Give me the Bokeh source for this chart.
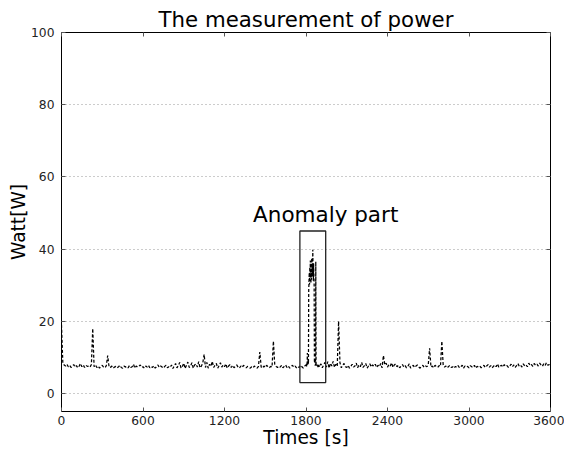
from bokeh.plotting import figure
from bokeh.models import Range1d, LinearAxis, FixedTicker, Label, ColumnDataSource
from bokeh.embed import file_html
from bokeh.resources import INLINE

# ---- data (power in W) ----
# t = 0 .. 1790 s, every 10 s
power_before = [
    19.0, 8.2, 7.9, 7.6, 8.1, 7.4, 7.8, 7.2, 7.5, 8.0, 7.3, 7.7, 7.1, 7.6, 8.3, 7.4, 7.9, 7.2, 7.8, 7.5,
    7.6, 7.3, 8.0, 18.0, 7.4, 7.9, 7.2, 7.6, 7.0, 7.5, 7.8, 7.3, 7.1, 7.7, 10.5, 7.4, 7.2, 7.6, 7.0, 7.3,
    7.5, 7.1, 7.4, 7.8, 7.2, 7.0, 7.6, 7.3, 7.5, 7.1, 7.7, 7.2, 7.4, 8.1, 7.0, 7.6, 7.3, 7.5, 7.9, 7.2,
    7.4, 7.0, 7.6, 7.3, 7.8, 7.1, 7.5, 7.2, 7.7, 7.0, 7.4, 7.9, 7.2, 7.6, 7.3, 7.0, 7.5, 7.8, 7.1, 7.4,
    7.2, 7.9, 6.9, 7.6, 8.3, 7.1, 7.7, 8.6, 7.0, 7.5, 8.4, 6.9, 7.8, 8.7, 7.2, 7.6, 8.5, 7.0, 7.9, 8.2,
    7.3, 8.8, 7.1, 7.6, 8.4, 10.8, 7.2, 8.6, 7.0, 8.1, 7.5, 8.9, 7.2, 7.8, 8.3, 7.0, 7.7, 8.5, 7.3, 7.9,
    7.4, 8.2, 7.0, 7.6, 8.0, 7.2, 7.8, 7.1, 7.5, 7.9, 7.3, 7.0, 7.6, 7.2, 7.8, 7.4, 7.1, 7.5, 7.3, 7.0,
    7.4, 7.1, 7.6, 7.2, 7.0, 7.5, 11.5, 7.3, 7.0, 7.6, 7.2, 7.8, 7.4, 7.1, 7.5, 7.3, 14.5, 7.9, 7.5, 7.2,
    7.6, 7.3, 7.8, 7.1, 7.5, 7.9, 7.2, 7.6, 7.0, 7.4, 7.8, 7.3, 7.6, 7.1, 7.5, 7.2, 7.8, 7.4, 7.0, 7.6,
]
# t = 1800 .. 1898 s, every 2 s (anomaly)
power_anomaly = [
    7.8, 8.1, 7.5, 8.3, 7.9, 11.2, 8.0, 8.4, 9.5, 8.2,
    28.5, 31.0, 33.5, 30.2, 35.0, 32.1, 36.8, 33.0, 30.5, 34.2,
    31.5, 37.5, 33.8, 35.6, 32.4, 39.8, 34.0, 31.2, 36.0, 33.1,
    30.0, 8.5, 9.0, 8.2, 7.7, 8.0, 36.5, 8.4, 7.9, 8.1,
    7.6, 8.0, 7.4, 7.8, 7.3, 7.9, 7.5, 8.2, 7.4, 7.7,
]
# t = 1900 .. 3600 s, every 10 s
power_after = [
    7.5, 8.2, 7.1, 7.9, 8.6, 7.3, 8.8, 7.0, 8.4, 7.6, 8.9, 7.2, 8.1, 7.5, 20.0, 8.5, 7.1, 7.8, 8.3, 7.4,
    7.2, 7.8, 7.0, 7.5, 8.1, 7.3, 7.6, 8.4, 7.1, 7.9, 7.4, 8.6, 7.2, 7.7, 8.3, 7.0, 7.6, 8.2, 7.3, 7.9,
    7.5, 8.1, 7.2, 7.8, 7.4, 8.3, 7.1, 10.5, 7.9, 8.4, 7.3, 8.0, 7.6, 8.5, 7.2, 7.9, 8.2, 7.4, 7.8, 7.1,
    7.6, 8.0, 7.3, 7.7, 7.1, 7.5, 8.2, 7.0, 7.4, 7.8, 7.2, 7.6, 7.9, 7.3, 7.0, 7.5, 7.8, 7.2, 7.6, 7.4,
    7.9, 12.5, 7.3, 7.6, 7.1, 7.8, 7.4, 7.2, 7.7, 7.5, 14.5, 7.9, 7.3, 7.6, 7.1, 7.5, 7.8, 7.2, 7.4, 7.0,
    7.5, 7.2, 7.7, 7.1, 7.4, 7.8, 7.0, 7.6, 7.3, 7.5, 7.1, 7.7, 7.4, 7.2, 7.8, 7.0, 7.5, 7.3, 7.6, 7.1,
    7.4, 7.8, 7.2, 7.6, 8.0, 7.3, 7.7, 7.1, 7.5, 7.9, 7.4, 8.2, 7.2, 7.6, 7.8, 7.3, 8.0, 7.5, 7.7, 7.2,
    7.6, 8.1, 7.4, 7.9, 7.2, 7.7, 8.3, 7.5, 7.8, 7.3, 8.2, 7.6, 7.9, 7.4, 8.4, 7.7, 8.0, 7.5, 8.3, 7.8,
    8.1, 7.6, 8.4, 7.9, 7.5, 8.2, 7.7, 8.5, 7.8, 8.0, 7.6,
]
times_before = list(range(0, 1800, 10))
times_anomaly = list(range(1800, 1900, 2))
times_after = list(range(1900, 3601, 10))

x_ticks = [0, 600, 1200, 1800, 2400, 3000, 3600]
y_ticks = [0, 20, 40, 60, 80, 100]
box_times = [1755, 1945]
box_watts = [3, 45]
note_text = "Anomaly part"
note_pos = [1945, 49.5]

times = times_before + times_anomaly + times_after
power = power_before + power_anomaly + power_after
src = ColumnDataSource(data=dict(t=times, w=power))

FONT = "DejaVu Sans"

p = figure(width=564, height=450, output_backend="svg", toolbar_location=None,
           x_range=Range1d(0, 3600), y_range=Range1d(-5, 100),
           min_border_left=61, min_border_right=14, min_border_top=32, min_border_bottom=38,
           background_fill_color="white", border_fill_color="white")

p.title.text = "The measurement of power"
p.title.align = "center"
p.title.text_font = FONT
p.title.text_font_size = "21.3px"
p.title.text_font_style = "normal"
p.title.text_color = "black"
p.title.standoff = 2

p.outline_line_color = "black"
p.outline_line_width = 1
p.outline_line_alpha = 1

for ax, ticks in ((p.xaxis[0], x_ticks), (p.yaxis[0], y_ticks)):
    ax.ticker = FixedTicker(ticks=ticks)
    ax.axis_line_color = None
    ax.major_tick_in = 4
    ax.major_tick_out = 0
    ax.major_tick_line_color = "#555555"
    ax.minor_tick_line_color = None
    ax.major_label_text_font = FONT
    ax.major_label_text_font_size = "12.3px"
    ax.major_label_text_color = "#222222"
    ax.axis_label_text_font = FONT
    ax.axis_label_text_font_size = "18.6px"
    ax.axis_label_text_font_style = "normal"
    ax.axis_label_text_color = "black"

p.xaxis.axis_label = "Times [s]"
p.yaxis.axis_label = "Watt[W]"
p.xaxis.major_label_standoff = 4
p.xaxis.axis_label_standoff = -1
p.yaxis.major_label_standoff = 7
p.yaxis.axis_label_standoff = -1

for loc, ticks in (("right", y_ticks), ("above", x_ticks)):
    a = LinearAxis(ticker=FixedTicker(ticks=ticks), axis_line_color=None,
                   major_tick_in=4, major_tick_out=0, major_tick_line_color="#555555",
                   minor_tick_line_color=None, major_label_text_font_size="1px",
                   major_label_text_color=None, major_label_standoff=0)
    p.add_layout(a, loc)

p.xgrid.grid_line_color = None
p.ygrid.grid_line_color = "#999999"
p.ygrid.grid_line_dash = "1 3"
p.ygrid.grid_line_width = 1
p.ygrid.ticker = FixedTicker(ticks=y_ticks)

p.line("t", "w", source=src, line_color="black", line_width=1.25, line_dash="3 2")

p.quad(left=[box_times[0]], right=[box_times[1]], bottom=[box_watts[0]], top=[box_watts[1]],
       fill_alpha=0, line_color="#222222", line_width=1.3)

p.add_layout(Label(x=note_pos[0], y=note_pos[1], text=note_text, text_align="center",
                   text_baseline="alphabetic", text_font=FONT, text_font_size="21.5px",
                   text_color="black"))

open("out.html", "w").write(file_html(p, INLINE))
